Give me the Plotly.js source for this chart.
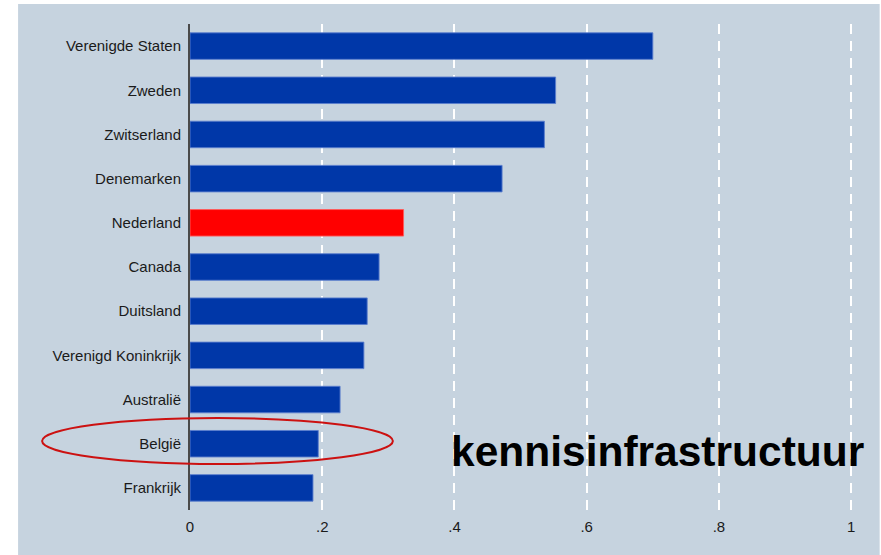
<!DOCTYPE html>
<html>
<head>
<meta charset="utf-8">
<script src="https://cdn.plot.ly/plotly-3.0.1.min.js"></script>
<style>html,body{margin:0;padding:0;background:#fff;}#chart{width:881px;height:555px;}</style>
</head>
<body>
<div id="chart"></div>
<script>
const countries = ["Verenigde Staten","Zweden","Zwitserland","Denemarken","Nederland","Canada","Duitsland","Verenigd Koninkrijk","Australië","België","Frankrijk"];
const values = [0.700,0.553,0.536,0.472,0.323,0.286,0.268,0.263,0.227,0.194,0.186];
const highlight = "Nederland";
const xTickVals = [0,0.2,0.4,0.6,0.8,1];
const xTickText = ["0",".2",".4",".6",".8","1"];
const chartLabel = "kennisinfrastructuur";

const BLUE = "#0037a8", RED = "#ff0000", BG = "#c6d3df";
const colors = countries.map(c => c === highlight ? RED : BLUE);
const lineColors = countries.map(c => c === highlight ? "rgba(255,90,90,0.9)" : "rgba(90,125,205,0.9)");

const L = 190, T = 24, B = 45, W = 881, H = 555;
const xMax = 1.03;
const plotW = 661.5 * xMax;
const R = W - L - plotW;
const plotH = H - T - B;
const px = p => (p - L) / plotW;
const py = p => (H - B - p) / plotH;

const trace = {
  type: "bar", orientation: "h",
  y: countries, x: values,
  marker: {color: colors, line: {color: lineColors, width: 1}},
  width: 0.6, hoverinfo: "none"
};

const layout = {
  width: W, height: H,
  margin: {l: L, r: R, t: T, b: B, pad: 0},
  paper_bgcolor: "#ffffff", plot_bgcolor: BG,
  showlegend: false,
  font: {family: "Liberation Sans, Arial, sans-serif", size: 15, color: "#1a1a1a"},
  xaxis: {
    range: [0, xMax], tickvals: xTickVals, ticktext: xTickText,
    showgrid: true, gridcolor: "#ffffff", gridwidth: 2, griddash: "10px,7px",
    zeroline: false, showline: false, ticks: "outside", ticklen: 3, tickcolor: "rgba(0,0,0,0)",
    tickfont: {size: 15, color: "#1a1a1a"}, fixedrange: true
  },
  yaxis: {
    type: "category", categoryorder: "array", categoryarray: countries, autorange: "reversed",
    showgrid: false, zeroline: false, showline: true, linecolor: "#4a4a4a", linewidth: 2,
    ticks: "outside", ticklen: 4, tickcolor: "rgba(0,0,0,0)",
    tickfont: {size: 15, color: "#1a1a1a"}, fixedrange: true
  },
  shapes: [
    {type: "rect", xref: "paper", yref: "paper", layer: "below",
     x0: px(18), x1: px(880), y0: py(555), y1: py(4),
     fillcolor: BG, line: {width: 0}},
    {type: "circle", xref: "paper", yref: "paper", layer: "above",
     x0: px(42), x1: px(393), y0: py(464), y1: py(418),
     line: {color: "#cc1111", width: 2}}
  ],
  annotations: [
    {text: "<b>" + chartLabel + "</b>", xref: "paper", yref: "paper",
     x: px(658), y: py(451), xanchor: "center", yanchor: "middle", showarrow: false,
     font: {family: "Liberation Sans, Arial, sans-serif", size: 42.5, color: "#000000"}}
  ]
};

Plotly.newPlot("chart", [trace], layout, {displayModeBar: false, staticPlot: true});
</script>
</body>
</html>
